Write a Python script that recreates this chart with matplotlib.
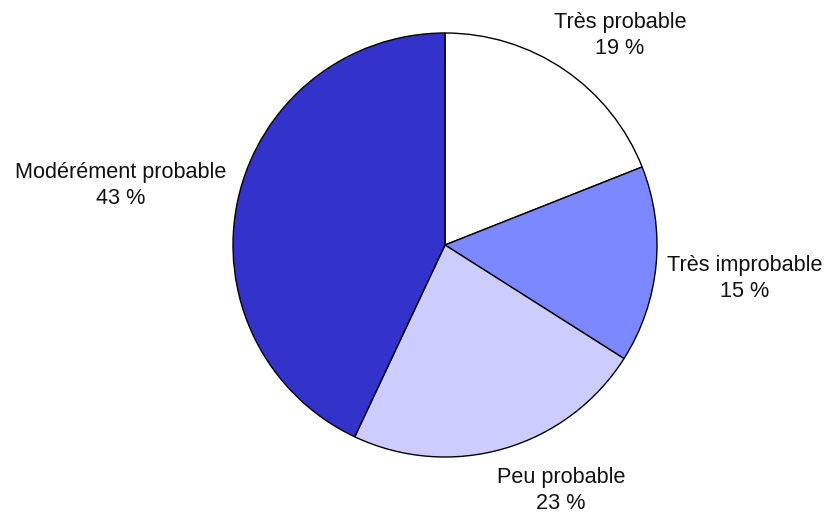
import matplotlib
matplotlib.use("Agg")
import matplotlib.pyplot as plt

categories = ["Très probable", "Très improbable", "Peu probable", "Modérément probable"]
values = [19, 15, 23, 43]
colors = ["#FFFFFF", "#7B88FF", "#CCCCFF", "#3333CC"]
# label anchor positions, in units of the pie radius
label_pos = [(0.825, 0.99), (1.415, -0.158), (0.547, -1.158), (-1.528, 0.281)]

plt.rcParams["font.family"] = ["Liberation Sans", "DejaVu Sans"]

W, H = 828, 518
fig = plt.figure(figsize=(W / 100, H / 100), dpi=100)
ax = fig.add_axes([0, 0, 1, 1])

R = 212.0
cx, cy = 445.0, 245.0
ax.pie(values, colors=colors, startangle=90, counterclock=False, radius=1.0,
       wedgeprops=dict(edgecolor="black", linewidth=1.0))
ax.set_xlim(-cx / R, (W - cx) / R)
ax.set_ylim(-(H - cy) / R, cy / R)
ax.set_aspect("auto")
ax.axis("off")

for name, val, (x, y) in zip(categories, values, label_pos):
    ax.text(x, y, f"{name}\n{val} %", ha="center", va="center",
            fontsize=15.6, linespacing=1.3, color="#111111")

fig.savefig("out.png", dpi=100)
